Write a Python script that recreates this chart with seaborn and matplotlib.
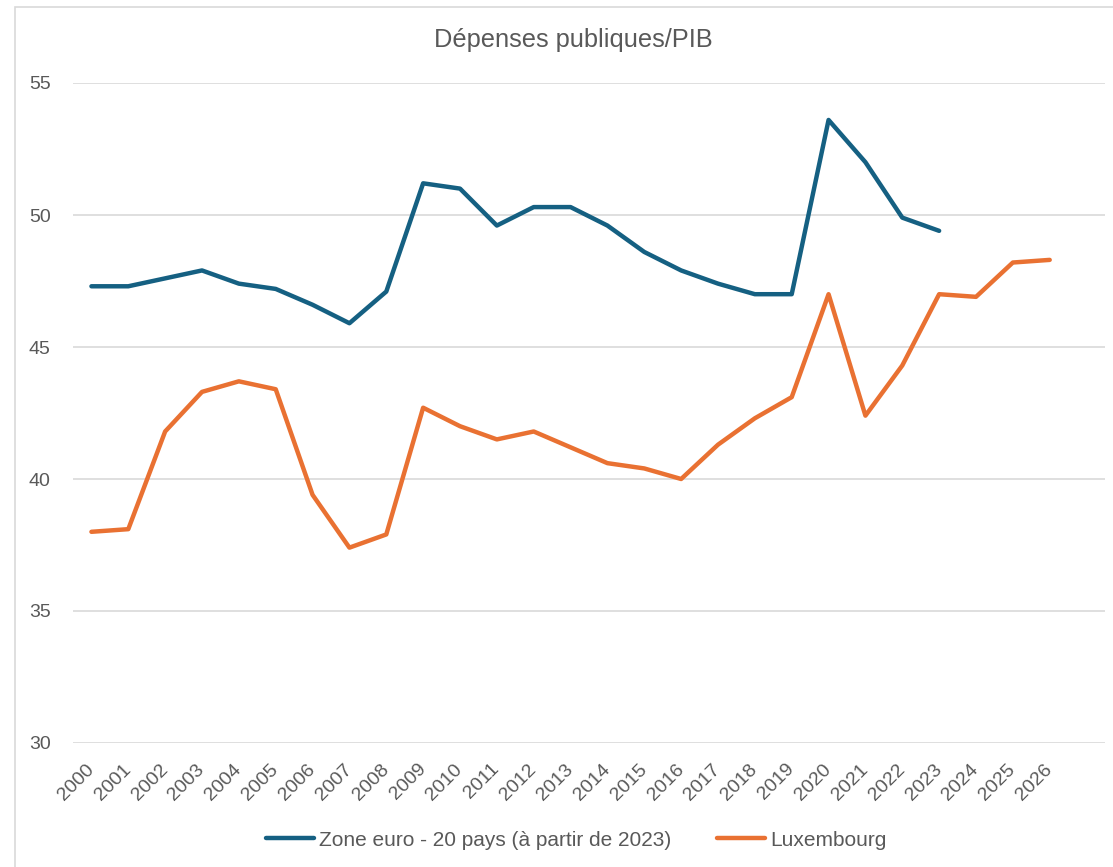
import pandas as pd
import matplotlib
matplotlib.use('Agg')
import matplotlib.pyplot as plt
import seaborn as sns
from matplotlib.patches import Rectangle

years = list(range(2000, 2027))
zone_euro = [47.3, 47.3, 47.6, 47.9, 47.4, 47.2, 46.6, 45.9, 47.1, 51.2,
             51.0, 49.6, 50.3, 50.3, 49.6, 48.6, 47.9, 47.4, 47.0, 47.0,
             53.6, 52.0, 49.9, 49.4]
luxembourg = [38.0, 38.1, 41.8, 43.3, 43.7, 43.4, 39.4, 37.4, 37.9, 42.7,
              42.0, 41.5, 41.8, 41.2, 40.6, 40.4, 40.0, 41.3, 42.3, 43.1,
              47.0, 42.4, 44.3, 47.0, 46.9, 48.2, 48.3]
series_names = ['Zone euro - 20 pays (à partir de 2023)', 'Luxembourg']
colors = ['#156082', '#E97132']

df = pd.concat([
    pd.DataFrame({'annee': years[:len(zone_euro)], 'valeur': zone_euro, 'serie': series_names[0]}),
    pd.DataFrame({'annee': years[:len(luxembourg)], 'valeur': luxembourg, 'serie': series_names[1]}),
])

sns.set_style('white')
plt.rcParams['font.family'] = ['Liberation Sans', 'DejaVu Sans']
grey = '#595959'

fig = plt.figure(figsize=(11.13, 8.67), dpi=100)
ax = fig.add_axes([73 / 1113, 1 - 743 / 867, (1105 - 73) / 1113, (743 - 83) / 867])

sns.lineplot(data=df, x='annee', y='valeur', hue='serie', palette=colors,
             linewidth=3.2, solid_capstyle='round', ax=ax)

ax.set_xlim(1999.5, 2027.5)
ax.set_ylim(30, 55)
ax.set_xticks(years)
ax.set_xticklabels([str(y) for y in years], rotation=45, ha='right', va='center',
                   rotation_mode='anchor')
ax.set_yticks([30, 35, 40, 45, 50, 55])
ax.tick_params(axis='both', length=0, labelsize=14, labelcolor=grey)
ax.tick_params(axis='y', pad=16)
ax.tick_params(axis='x', pad=17)
ax.set_xlabel('')
ax.set_ylabel('')
ax.grid(axis='y', color='#D9D9D9', linewidth=1.2)
ax.set_axisbelow(True)
for s in ax.spines.values():
    s.set_visible(False)

fig.text(573 / 1113, 1 - 40 / 867, 'Dépenses publiques/PIB', ha='center', va='center',
         fontsize=18.3, color=grey)

sns.move_legend(ax, 'center', bbox_to_anchor=(576 / 1113, 1 - 840 / 867),
                bbox_transform=fig.transFigure, ncol=2, frameon=False, title=None,
                fontsize=15, handlelength=2.3, handletextpad=0.25, columnspacing=2.2)
for t in ax.get_legend().get_texts():
    t.set_color(grey)
for h in ax.get_legend().get_lines():
    h.set_linewidth(3.2)

fig.patches.append(Rectangle((15 / 1113, -0.1), 1.1, (1 - 7 / 867) + 0.1,
                             transform=fig.transFigure, fill=False,
                             edgecolor='#D9D9D9', linewidth=1.2))

fig.savefig('out.png', dpi=100)
